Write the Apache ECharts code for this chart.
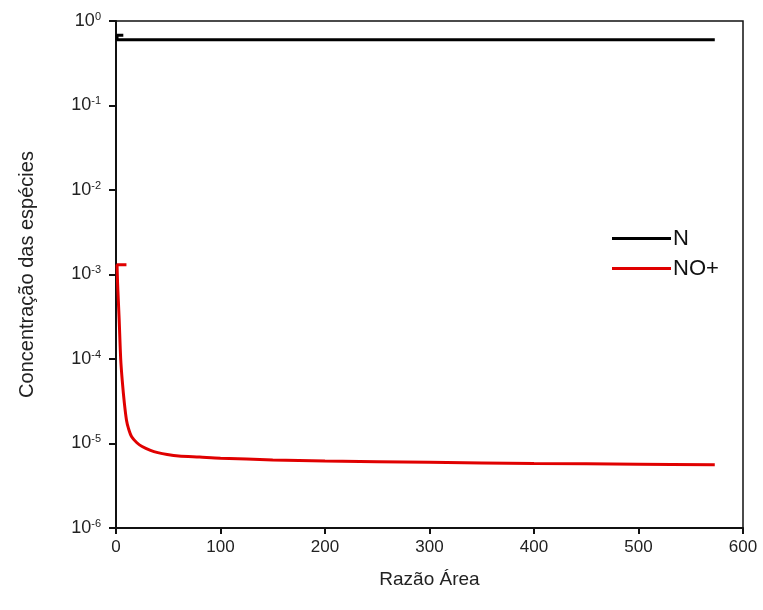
<!DOCTYPE html>
<html>
<head>
<meta charset="utf-8">
<script src="https://cdn.jsdelivr.net/npm/echarts@6/dist/echarts.min.js"></script>
<style>html,body{margin:0;padding:0;background:#fff}#c{width:763px;height:610px}</style>
</head>
<body>
<div id="c"></div>
<script>
// Series N
const nX = [7, 1, 1, 100, 200, 300, 400, 500, 573];
const nY = [0.68, 0.68, 0.60, 0.60, 0.60, 0.60, 0.60, 0.60, 0.60];
// Series NO+
const noX = [10, 1, 1.5, 2.2, 3, 4.5, 6, 8, 10, 12, 15, 20, 25, 33, 40, 49, 60, 80, 100, 150, 200, 300, 400, 500, 573];
const noY = [1.3e-3, 1.3e-3, 8e-4, 5e-4, 3e-4, 1e-4, 5.5e-5, 3e-5, 1.9e-5, 1.5e-5, 1.2e-5, 1.02e-5, 9.2e-6, 8.3e-6, 7.8e-6, 7.4e-6, 7.1e-6, 6.9e-6, 6.7e-6, 6.4e-6, 6.2e-6, 6.0e-6, 5.8e-6, 5.7e-6, 5.6e-6];
const seriesNames = ['N', 'NO+'];
const xTicks = [0, 100, 200, 300, 400, 500, 600];

const font = 'Arial, "Liberation Sans", sans-serif';
const chart = echarts.init(document.getElementById('c'));
chart.setOption({
  animation: false,
  backgroundColor: '#fff',
  grid: { left: 116, right: 20, top: 21, bottom: 82, show: true, borderColor: '#111', borderWidth: 1.5 },
  legend: {
    orient: 'vertical', left: 607, top: 222,
    icon: 'rect', itemWidth: 59, itemHeight: 3, itemGap: 7,
    textStyle: { fontFamily: font, fontSize: 22, lineHeight: 23, color: '#111', padding: [0, 0, 0, -3] },
    data: seriesNames
  },
  xAxis: {
    type: 'value', min: xTicks[0], max: xTicks[xTicks.length - 1], interval: 100,
    name: 'Razão Área', nameLocation: 'middle', nameGap: 42,
    nameTextStyle: { fontFamily: font, fontSize: 19, color: '#222' },
    axisLine: { lineStyle: { color: '#111', width: 2 } },
    axisTick: { show: true, inside: false, length: 6, lineStyle: { color: '#111', width: 2 } },
    axisLabel: { fontFamily: font, fontSize: 17, color: '#222', margin: 11 },
    splitLine: { show: false }
  },
  yAxis: {
    type: 'log', logBase: 10, min: 1e-6, max: 1,
    name: 'Concentração das espécies', nameLocation: 'middle', nameGap: 79, nameRotate: 90,
    nameTextStyle: { fontFamily: font, fontSize: 20, color: '#222' },
    axisLine: { lineStyle: { color: '#111', width: 2 } },
    axisTick: { show: true, inside: false, length: 7, lineStyle: { color: '#111', width: 2 } },
    axisLabel: {
      margin: 15,
      formatter: function (v) {
        const e = Math.round(Math.log10(v));
        return '{b|10}{s|' + e + '}';
      },
      rich: {
        b: { fontFamily: font, fontSize: 18, color: '#222' },
        s: { fontFamily: font, fontSize: 11, color: '#222', verticalAlign: 'top', padding: [0, 0, 9, 0] }
      }
    },
    splitLine: { show: false }
  },
  series: [
    {
      name: seriesNames[0], type: 'line', symbol: 'none', color: '#000',
      lineStyle: { width: 3, color: '#000' },
      data: nX.map((x, i) => [x, nY[i]])
    },
    {
      name: seriesNames[1], type: 'line', symbol: 'none', color: '#e00000', smooth: 0.3,
      lineStyle: { width: 3, color: '#e00000' },
      data: noX.map((x, i) => [x, noY[i]])
    }
  ]
});
</script>
</body>
</html>
